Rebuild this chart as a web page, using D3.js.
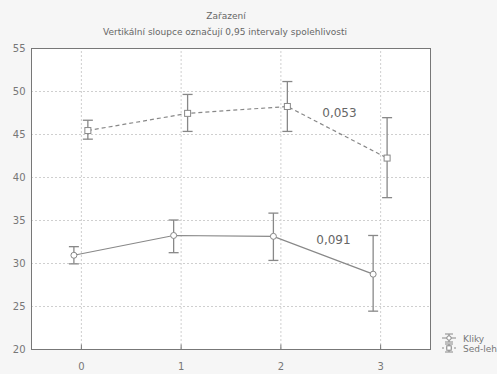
<!DOCTYPE html>
<html>
<head>
<meta charset="utf-8">
<script src="https://cdn.jsdelivr.net/npm/d3@7"></script>
<style>
body{margin:0;background:#f6f6f6;}
text{font-family:"DejaVu Sans",sans-serif;}
</style>
</head>
<body>
<script>
var categories = [0, 1, 2, 3]
var klikyMean = [30.9, 33.2, 33.1, 28.7]
var klikyLow = [29.9, 31.2, 30.3, 24.4]
var klikyHigh = [31.9, 35.0, 35.8, 33.2]
var sedMean = [45.4, 47.4, 48.2, 42.2]
var sedLow = [44.4, 45.3, 45.3, 37.6]
var sedHigh = [46.6, 49.6, 51.1, 46.9]
var yTicks = [20, 25, 30, 35, 40, 45, 50, 55]
var pLabels = [{text: '0,053', x: 2.42, y: 47.0}, {text: '0,091', x: 2.36, y: 32.2}]

var width = 497,
	height = 374,
	margin = {top:48, left:31, right:67, bottom:25};

var svg = d3.select('body')
	.append('svg')
	.attr('width',width)
	.attr('height',height)

var escalaX = d3.scaleLinear()
	.domain([-0.5,3.5])
	.range([margin.left,width-margin.right])

var escalaY = d3.scaleLinear()
	.domain([20,55])
	.range([height-margin.bottom,margin.top])

svg.append('rect')
	.attr('x',escalaX.range()[0])
	.attr('y',escalaY.range()[1])
	.attr('width',escalaX.range()[1]-escalaX.range()[0])
	.attr('height',escalaY.range()[0]-escalaY.range()[1])
	.attr('fill','#fff')

// grid
svg.append('g')
	.selectAll('line')
	.data(yTicks.slice(1,-1)).enter()
	.append('line')
	.attr('x1',escalaX.range()[0])
	.attr('x2',escalaX.range()[1])
	.attr('y1',d=>escalaY(d)+0.5)
	.attr('y2',d=>escalaY(d)+0.5)
	.attr('stroke','#cfcfcf')
	.attr('stroke-dasharray','2,2')

svg.append('g')
	.selectAll('line')
	.data(categories).enter()
	.append('line')
	.attr('x1',d=>escalaX(d)+0.5)
	.attr('x2',d=>escalaX(d)+0.5)
	.attr('y1',escalaY.range()[0])
	.attr('y2',escalaY.range()[1])
	.attr('stroke','#cfcfcf')
	.attr('stroke-dasharray','2,2')

var ejeX = d3.axisBottom(escalaX).tickValues(categories).tickFormat(d3.format('d')).tickSize(5).tickSizeOuter(0)
var ejeY = d3.axisLeft(escalaY).tickValues(yTicks).tickSize(0).tickPadding(6)

var gx = svg.append('g')
	.attr('transform','translate(0,'+(escalaY.range()[0]+0.5)+')')
	.call(ejeX)
gx.selectAll('.tick line').attr('transform','translate(0,-5)').attr('stroke','#777')
gx.selectAll('text').attr('dy','1.2em')

var gy = svg.append('g')
	.attr('transform','translate('+(escalaX.range()[0]+0.5)+',0)')
	.call(ejeY)

svg.selectAll('.domain').remove()
svg.selectAll('.tick text').attr('fill','#777').attr('font-size',10)

svg.append('rect')
	.attr('x',escalaX.range()[0]+0.5)
	.attr('y',escalaY.range()[1]+0.5)
	.attr('width',escalaX.range()[1]-escalaX.range()[0])
	.attr('height',escalaY.range()[0]-escalaY.range()[1])
	.attr('fill','none')
	.attr('stroke','#777')

// series
var series = [
	{name:'Kliky', mean:klikyMean, low:klikyLow, high:klikyHigh, off:-0.07, dash:null, shape:'circle'},
	{name:'Sed-leh', mean:sedMean, low:sedLow, high:sedHigh, off:0.07, dash:'4,3', shape:'square'}
]

series.forEach(function(s){
	var pts = categories.map((c,i)=>({x:c+s.off, m:s.mean[i], lo:s.low[i], hi:s.high[i]}))
	var g = svg.append('g')
	g.append('path')
		.datum(pts)
		.attr('d',d3.line().x(d=>escalaX(d.x)).y(d=>escalaY(d.m)))
		.attr('fill','none')
		.attr('stroke','#888')
		.attr('stroke-width',1.2)
		.attr('stroke-dasharray',s.dash)
	var eb = g.selectAll('.eb').data(pts).enter().append('g')
	eb.append('line')
		.attr('x1',d=>escalaX(d.x)).attr('x2',d=>escalaX(d.x))
		.attr('y1',d=>escalaY(d.lo)).attr('y2',d=>escalaY(d.hi))
		.attr('stroke','#888').attr('stroke-width',1.3)
	eb.append('line')
		.attr('x1',d=>escalaX(d.x)-5).attr('x2',d=>escalaX(d.x)+5)
		.attr('y1',d=>escalaY(d.lo)).attr('y2',d=>escalaY(d.lo))
		.attr('stroke','#888').attr('stroke-width',1.3)
	eb.append('line')
		.attr('x1',d=>escalaX(d.x)-5).attr('x2',d=>escalaX(d.x)+5)
		.attr('y1',d=>escalaY(d.hi)).attr('y2',d=>escalaY(d.hi))
		.attr('stroke','#888').attr('stroke-width',1.3)
	if(s.shape=='circle'){
		eb.append('circle')
			.attr('cx',d=>escalaX(d.x)).attr('cy',d=>escalaY(d.m)).attr('r',3)
			.attr('fill','#fff').attr('stroke','#888')
	} else {
		eb.append('rect')
			.attr('x',d=>escalaX(d.x)-3).attr('y',d=>escalaY(d.m)-3)
			.attr('width',6).attr('height',6)
			.attr('fill','#fff').attr('stroke','#888')
	}
})

svg.append('g')
	.selectAll('text')
	.data(pLabels).enter()
	.append('text')
	.attr('x',d=>escalaX(d.x))
	.attr('y',d=>escalaY(d.y))
	.attr('font-size',12)
	.attr('fill','#666')
	.text(d=>d.text)

// titles
svg.append('text')
	.attr('x',226).attr('y',19)
	.attr('text-anchor','middle')
	.attr('font-size',9).attr('fill','#666')
	.text('Zařazení')
svg.append('text')
	.attr('x',225).attr('y',35)
	.attr('text-anchor','middle')
	.attr('font-size',9).attr('fill','#666')
	.text('Vertikální sloupce označují 0,95 intervaly spolehlivosti')

// legend
var leg = svg.append('g').attr('transform','translate(442,338)')
series.forEach(function(s,i){
	var g = leg.append('g').attr('transform','translate(0,'+(i*10)+')')
	g.append('line').attr('x1',0).attr('x2',14).attr('y1',0).attr('y2',0)
		.attr('stroke','#888').attr('stroke-dasharray',s.dash?'2,2':null)
	g.append('line').attr('x1',7).attr('x2',7).attr('y1',-4).attr('y2',4).attr('stroke','#888')
	g.append('line').attr('x1',3).attr('x2',11).attr('y1',-4).attr('y2',-4).attr('stroke','#888')
	g.append('line').attr('x1',3).attr('x2',11).attr('y1',4).attr('y2',4).attr('stroke','#888')
	if(s.shape=='circle'){
		g.append('circle').attr('cx',7).attr('cy',0).attr('r',2.2).attr('fill','#fff').attr('stroke','#888')
	} else {
		g.append('rect').attr('x',4.8).attr('y',-2.2).attr('width',4.4).attr('height',4.4).attr('fill','#fff').attr('stroke','#888')
	}
	g.append('text').attr('x',21).attr('y',3.5)
		.attr('font-size',9).attr('fill','#777')
		.text(s.name)
})
</script>
</body>
</html>
